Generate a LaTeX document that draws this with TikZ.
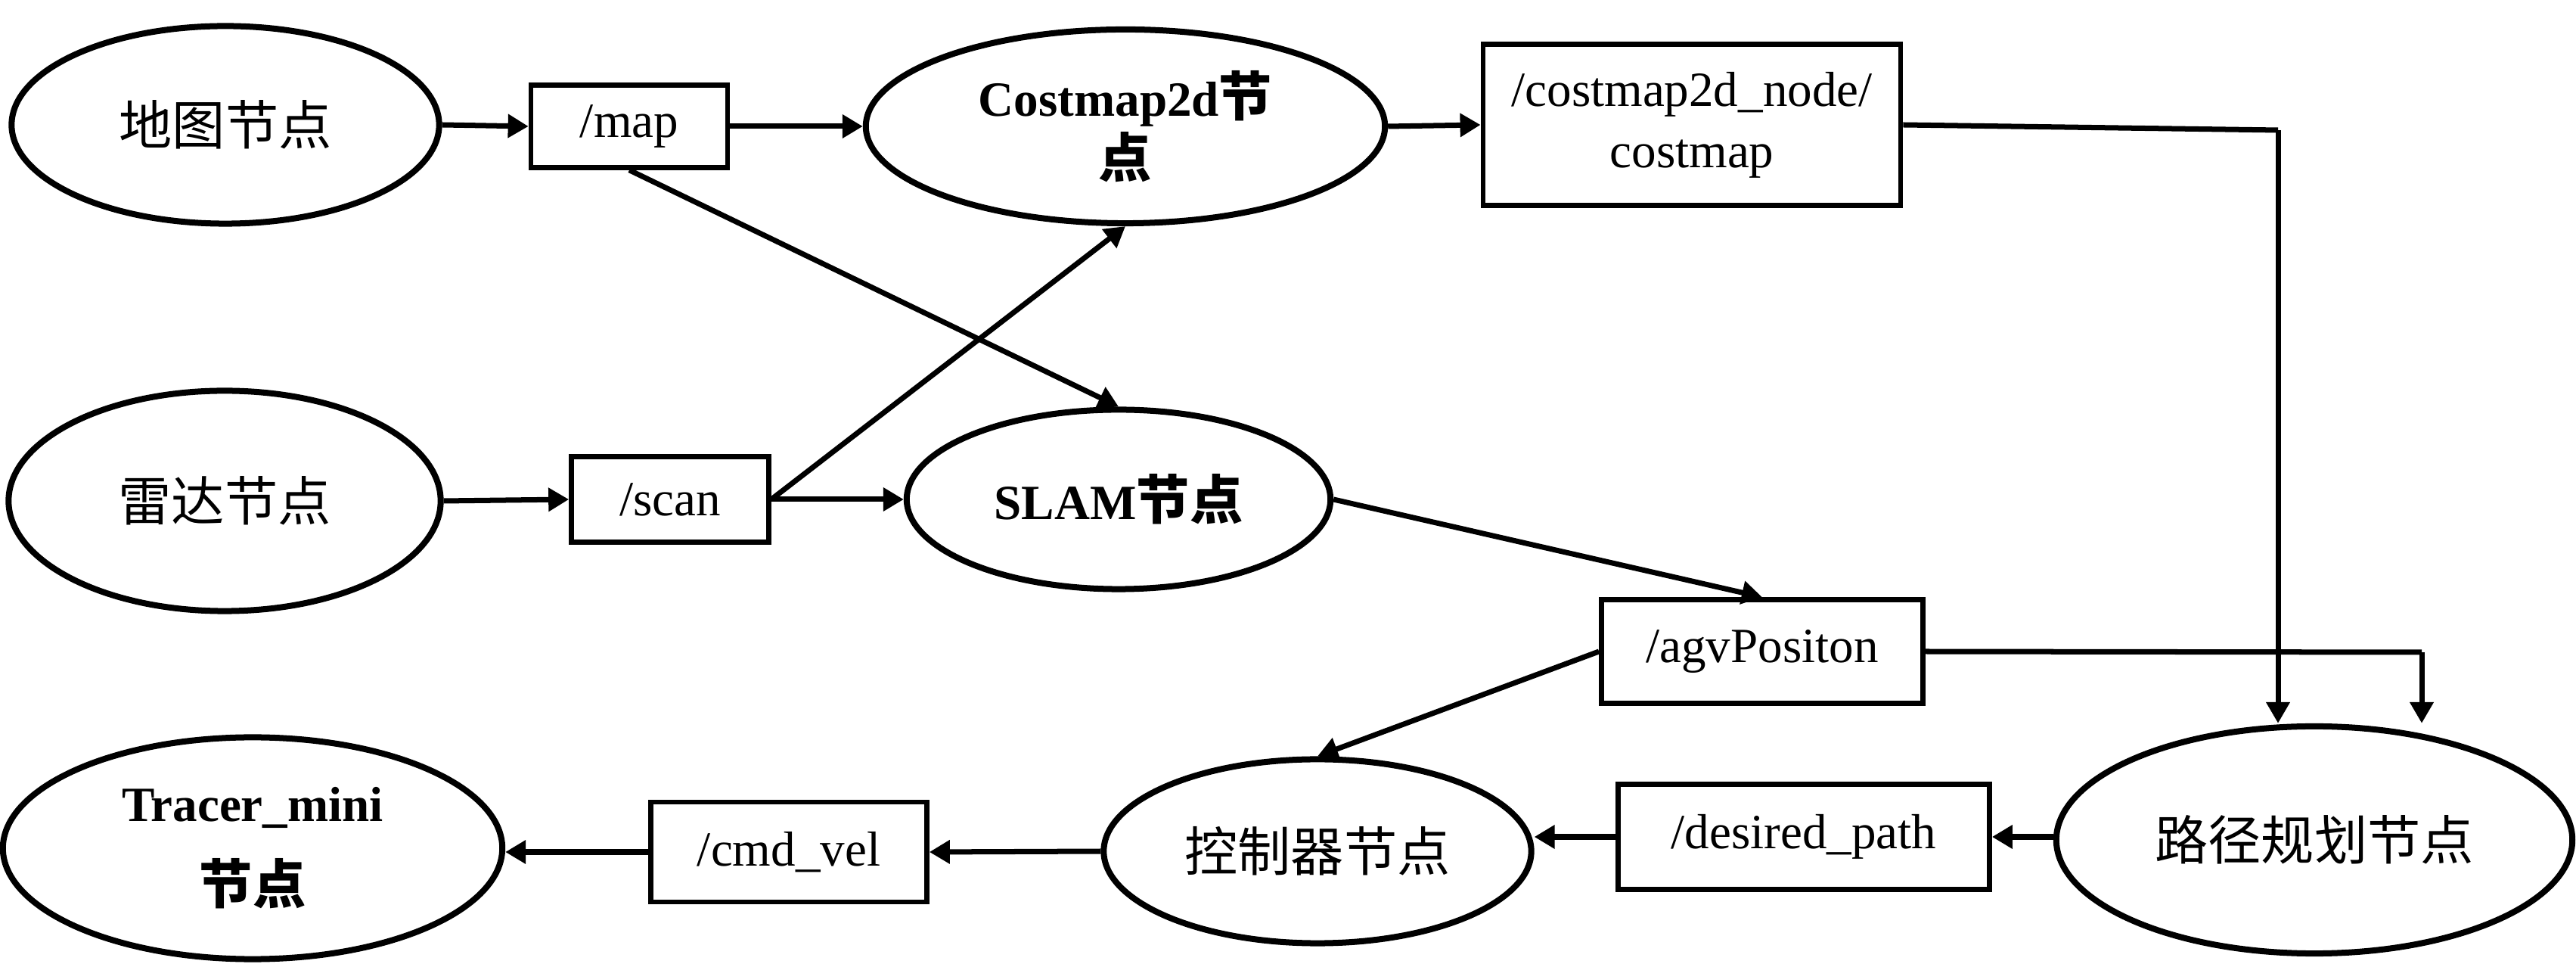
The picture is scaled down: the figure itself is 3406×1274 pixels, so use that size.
\documentclass[tikz,border=0pt]{standalone}
\usepackage{fontspec}
\setmainfont{Liberation Serif}
\newfontfamily\cjk[Scale=1.08]{Noto Sans CJK SC}
\usetikzlibrary{shapes.geometric,arrows.meta}
\begin{document}
\begin{tikzpicture}[x=0.01cm,y=-0.01cm,
  ell/.style={ellipse,draw,line width=0.08cm,inner sep=0pt,align=center,font=\fontsize{18.5}{23}\selectfont},
  box/.style={rectangle,draw,line width=0.065cm,inner sep=0pt,align=center,font=\fontsize{18.5}{23}\selectfont},
  arr/.style={line width=0.07cm,-{Triangle[length=0.27cm,width=0.30cm]}},
  seg/.style={line width=0.07cm,line join=miter},
  downarr/.style={line width=0.07cm,-{Triangle[length=0.28cm,width=0.30cm]}}]
\useasboundingbox (0,0) rectangle (3406,1274);
% nodes
\node[ell,minimum width=5.65cm,minimum height=2.61cm] (ditu) at (298,165) {{\cjk 地图节点}};
\node[box,minimum width=2.60cm,minimum height=1.09cm] (map) at (832,167) {/map};
\node[ell,minimum width=6.86cm,minimum height=2.56cm] (cost) at (1488,167) {\textbf{Costmap2d{\cjk 节}}\\\textbf{\cjk 点}};
\node[box,minimum width=5.52cm,minimum height=2.13cm] (cmbox) at (2237,165) {/costmap2d\_node/\\costmap};
\node[ell,minimum width=5.71cm,minimum height=2.91cm] (leida) at (297,662) {{\cjk 雷达节点}};
\node[box,minimum width=2.61cm,minimum height=1.13cm] (scan) at (886,660) {/scan};
\node[ell,minimum width=5.60cm,minimum height=2.37cm] (slam) at (1479,660) {\textbf{SLAM{\cjk 节点}}};
\node[box,minimum width=4.25cm,minimum height=1.37cm] (agv) at (2330,861) {/agvPositon};
\node[ell,minimum width=6.82cm,minimum height=3.00cm] (lujing) at (3060,1110) {{\cjk 路径规划节点}};
\node[box,minimum width=4.91cm,minimum height=1.39cm] (desired) at (2385,1106) {/desired\_path};
\node[ell,minimum width=5.65cm,minimum height=2.43cm] (kong) at (1742,1125) {{\cjk 控制器节点}};
\node[box,minimum width=3.65cm,minimum height=1.32cm] (cmd) at (1043,1126) {/cmd\_vel};
\node[ell,minimum width=6.60cm,minimum height=2.93cm,font=\fontsize{18.5}{31}\selectfont] (tracer) at (334,1121) {\textbf{Tracer\_mini}\\\textbf{\cjk 节点}};
% corner coordinates
\coordinate (c1) at (3012,172);
\coordinate (c2) at (3202,862);
% connectors
\draw[arr] (ditu.east) -- (map.west);
\draw[arr] (map.east) -- (cost.west);
\draw[arr] (cost.east) -- (cmbox.west);
\draw[arr] (map.south) -- (slam.north);
\draw[arr] (leida.east) -- (scan.west);
\draw[arr] (scan.east) -- (slam.west);
\draw[arr] (scan.east) -- (cost.south);
\draw[arr] (slam.east) -- (agv.north);
\draw[arr] (agv.west) -- (kong.north);
\draw[seg] (cmbox.east) -- (c1);
\draw[downarr] (c1) -- (c1 |- lujing.north);
\draw[seg] (agv.east) -- (c2);
\draw[downarr] (c2) -- (c2 |- lujing.north);
\draw[arr] (lujing.west |- desired.east) -- (desired.east);
\draw[arr] (desired.west) -- (kong.east |- desired.west);
\draw[arr] (kong.west) -- (cmd.east);
\draw[arr] (cmd.west) -- (tracer.east |- cmd.west);
\end{tikzpicture}
\end{document}
